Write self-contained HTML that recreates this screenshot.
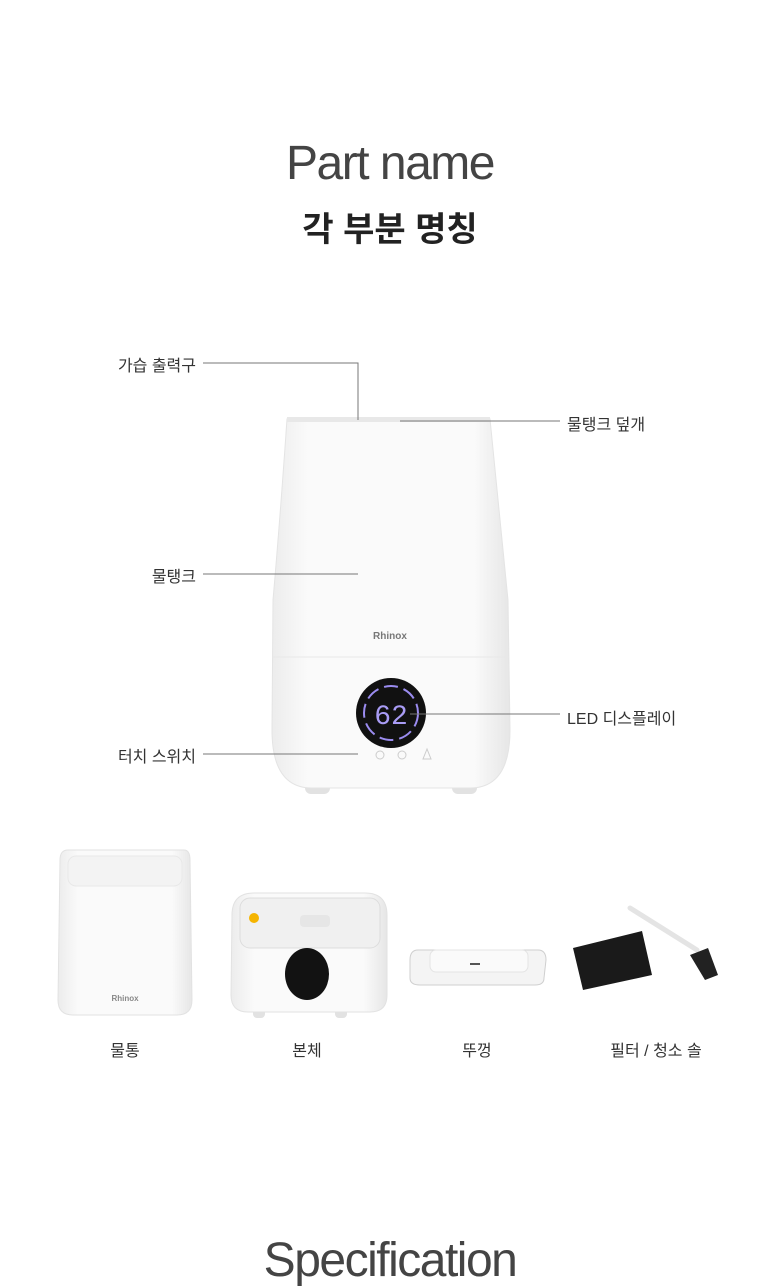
<!DOCTYPE html>
<html><head><meta charset="utf-8"><style>
body{margin:0;width:780px;height:1280px;background:#fff;overflow:hidden;position:relative;font-family:"Liberation Sans","Noto Sans CJK KR",sans-serif;}
.t{position:absolute;white-space:nowrap;color:#333;}
</style></head><body>
<div class="t" style="left:0;width:780px;text-align:center;top:136px;font-size:48px;font-weight:300;color:#444;letter-spacing:-1.5px;">Part name</div>
<div class="t" style="left:0;width:780px;text-align:center;top:202px;font-size:34px;font-weight:700;color:#222;">각 부분 명칭</div>
<svg width="780" height="1280" style="position:absolute;left:0;top:0">
<defs>
<linearGradient id="g" x1="0" x2="1"><stop offset="0" stop-color="#ececec"/><stop offset=".15" stop-color="#fafafa"/><stop offset=".85" stop-color="#fafafa"/><stop offset="1" stop-color="#e6e6e6"/></linearGradient>
</defs>
<rect x="305" y="775" width="25" height="19" rx="6" fill="#e2e2e2"/>
<rect x="452" y="775" width="25" height="19" rx="6" fill="#e2e2e2"/>
<path d="M287 419 L490 419 Q500 520 508 600 L510 730 Q510 788 470 788 L312 788 Q272 788 272 730 L273 600 Q280 520 287 419Z" fill="url(#g)" stroke="#e4e4e4"/>
<rect x="287" y="417" width="203" height="5" fill="#e8e8e8"/>
<line x1="273" y1="657" x2="509" y2="657" stroke="#e8e8e8"/>
<text x="390" y="639" text-anchor="middle" font-size="10" font-weight="700" fill="#777" font-family="Liberation Sans">Rhinox</text>
<circle cx="391" cy="713" r="35" fill="#111"/>
<circle cx="391" cy="713" r="27" fill="none" stroke="#9b8cf0" stroke-width="2" stroke-dasharray="14 6"/>
<text x="391" y="724" text-anchor="middle" font-size="28" fill="#a99cf5" font-family="Liberation Mono">62</text>
<g fill="none" stroke="#ccc"><circle cx="380" cy="755" r="4"/><circle cx="402" cy="755" r="4"/><path d="M427 749 L423 759 L431 759Z"/></g>
<g stroke="#777" stroke-width="1" fill="none">
<path d="M203 363 H358 V420"/>
<path d="M400 421 H560"/>
<path d="M203 574 H358"/>
<path d="M410 714 H560"/>
<path d="M203 754 H358"/>
</g>
<path d="M68 850 L184 850 Q190 850 190 860 L192 1000 Q192 1015 177 1015 L73 1015 Q58 1015 58 1000 L60 860 Q60 850 68 850Z" fill="url(#g)" stroke="#e2e2e2"/>
<rect x="68" y="856" width="114" height="30" rx="8" fill="#f3f3f3" stroke="#e8e8e8"/>
<text x="125" y="1001" text-anchor="middle" font-size="8" font-weight="700" fill="#888">Rhinox</text>
<rect x="253" y="1005" width="12" height="13" rx="4" fill="#e2e2e2"/><rect x="335" y="1005" width="12" height="13" rx="4" fill="#e2e2e2"/>
<path d="M232 915 Q232 893 254 893 L365 893 Q387 893 387 915 L387 995 Q387 1012 370 1012 L248 1012 Q231 1012 231 995Z" fill="url(#g)" stroke="#e2e2e2"/>
<rect x="240" y="898" width="140" height="50" rx="10" fill="#f0f0f0" stroke="#ddd"/>
<circle cx="254" cy="918" r="5" fill="#f5b400"/>
<rect x="300" y="915" width="30" height="12" rx="4" fill="#e6e6e6"/>
<ellipse cx="307" cy="974" rx="22" ry="26" fill="#121212"/>
<path d="M418 950 L538 950 Q546 950 546 960 L544 978 Q544 985 535 985 L420 985 Q410 985 410 978 L410 960 Q410 950 418 950Z" fill="#f4f4f4" stroke="#cfcfcf"/>
<rect x="430" y="950" width="98" height="22" rx="6" fill="#fafafa" stroke="#e4e4e4"/>
<rect x="470" y="963" width="10" height="2" fill="#555"/>
<path d="M573 948 L642 931 L652 975 L583 990Z" fill="#1a1a1a"/>
<line x1="630" y1="908" x2="697" y2="950" stroke="#e4e4e4" stroke-width="5" stroke-linecap="round"/>
<path d="M690 955 L708 948 L718 975 L705 980Z" fill="#222"/>
</svg>
<div class="t" style="right:584px;top:352px;font-size:16px;">가습 출력구</div>
<div class="t" style="left:567px;top:411px;font-size:16px;">물탱크 덮개</div>
<div class="t" style="right:584px;top:563px;font-size:16px;">물탱크</div>
<div class="t" style="left:567px;top:705px;font-size:16px;">LED 디스플레이</div>
<div class="t" style="right:584px;top:743px;font-size:16px;">터치 스위치</div>
<div class="t" style="left:75px;width:100px;text-align:center;top:1037px;font-size:16px;">물통</div>
<div class="t" style="left:257px;width:100px;text-align:center;top:1037px;font-size:16px;">본체</div>
<div class="t" style="left:427px;width:100px;text-align:center;top:1037px;font-size:16px;">뚜껑</div>
<div class="t" style="left:596px;width:120px;text-align:center;top:1037px;font-size:16px;">필터 / 청소 솔</div>
<div class="t" style="left:0;width:780px;text-align:center;top:1233px;font-size:48px;font-weight:300;color:#444;letter-spacing:-1.5px;">Specification</div>
</body></html>
